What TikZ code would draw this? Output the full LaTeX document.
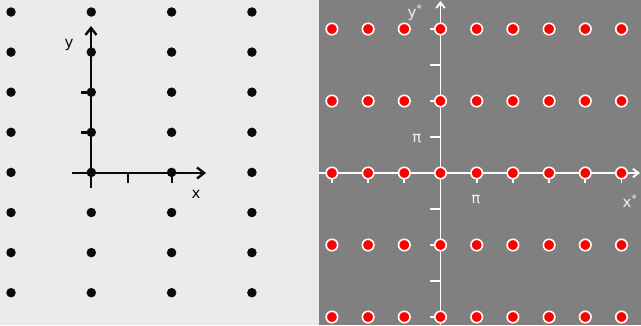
\documentclass[tikz,border=0pt]{standalone}
\usepackage{fontspec}
\setmainfont{DejaVu Sans}
\usepackage{xcolor}
\definecolor{PaperGray}{RGB}{235,235,235}
\definecolor{SlateGray}{RGB}{128,128,128}
\definecolor{DotRed}{RGB}{255,0,0}
\definecolor{InkBlack}{RGB}{10,10,10}
\definecolor{PaleInk}{RGB}{240,240,240}
\usepackage{tikz}
\usetikzlibrary{
    arrows.meta
}
\tikzset{
    blackdot/.style={
        circle,
        fill=InkBlack,
        inner sep=0pt,
        minimum size=9.5pt
    },
    reddot/.style={
        circle,
        fill=DotRed,
        draw=white,
        line width=1.6pt,
        inner sep=0pt,
        minimum size=11.5pt
    },
    axisblack/.style={
        InkBlack,
        line width=2.4pt
    },
    axiswhite/.style={
        white,
        line width=1.9pt
    },
    axislabel/.style={
        inner sep=0pt,
        font=\fontsize{15pt}{17pt}\selectfont
    }
}

\begin{document}
\begin{tikzpicture}[x=1pt,y=-1pt]
%
    \useasboundingbox (0,0) rectangle (641,325);
%
    \fill[PaperGray] (0,0) rectangle (319,325);
    \fill[SlateGray] (319,0) rectangle (641,325);
%
    % left lattice and its axes
    \coordinate (lo) at (91,173);
    \coordinate (lxs) at (72,173);
    \coordinate (lxe) at (206,173);
    \coordinate (lys) at (91,188);
    \coordinate (lye) at (91,26);
%
    \draw[
        axisblack,
        -{Straight Barb[length=7pt,width=11pt,line width=2.4pt]}
    ]
    (lxs)
    --
    (lxe);
%
    \draw[
        axisblack,
        -{Straight Barb[length=7pt,width=11pt,line width=2.4pt]}
    ]
    (lys)
    --
    (lye);
%
    \foreach \tx in {128,172}
        \draw[axisblack] (\tx,173) -- (\tx,183);
    \foreach \ty in {92.5,132.5}
        \draw[axisblack] (81,\ty) -- (91,\ty);
%
    \foreach \i in {0,...,3}
        \foreach \j in {0,...,7}
            \node[blackdot] (l-\i-\j) at ({11+80.3*\i},{12+40.1*\j}) {};
%
    \node[axislabel, InkBlack] (ly) at (69,45) {y};
    \node[axislabel, InkBlack] (lx) at (196,194) {x};
%
    % right lattice and its axes
    \coordinate (ro) at (440.5,173);
    \coordinate (rxs) at (319,173);
    \coordinate (rxe) at (640,173);
    \coordinate (rys) at (440.5,325);
    \coordinate (rye) at (440.5,1);
%
    \draw[
        axiswhite,
        -{Straight Barb[length=5.5pt,width=8.5pt,line width=1.9pt]}
    ]
    (rxs)
    --
    (rxe);
%
    \draw[
        axiswhite,
        -{Straight Barb[length=5.5pt,width=8.5pt,line width=1.9pt]}
    ]
    (rys)
    --
    (rye);
%
    \foreach \i in {-3,...,5}
        \draw[axiswhite] ({440.5+36.2*\i},173) -- ({440.5+36.2*\i},183);
    \foreach \k in {-4,...,4}
        \draw[axiswhite] (430,{173+36*\k}) -- (440.5,{173+36*\k});
%
    \foreach \i in {-3,...,5}
        \foreach \j in {-2,...,2}
            \node[reddot] (r-\i-\j) at ({440.5+36.2*\i},{173+72*\j}) {};
%
    \node[axislabel, PaleInk] (ry) at (415,13) {y\textsuperscript{*}};
    \node[axislabel, PaleInk] (rx) at (630,201) {x\textsuperscript{*}};
    \node[axislabel, PaleInk] (rpiy) at (417,139) {π};
    \node[axislabel, PaleInk] (rpix) at (476,200) {π};
%
\end{tikzpicture}
\end{document}
